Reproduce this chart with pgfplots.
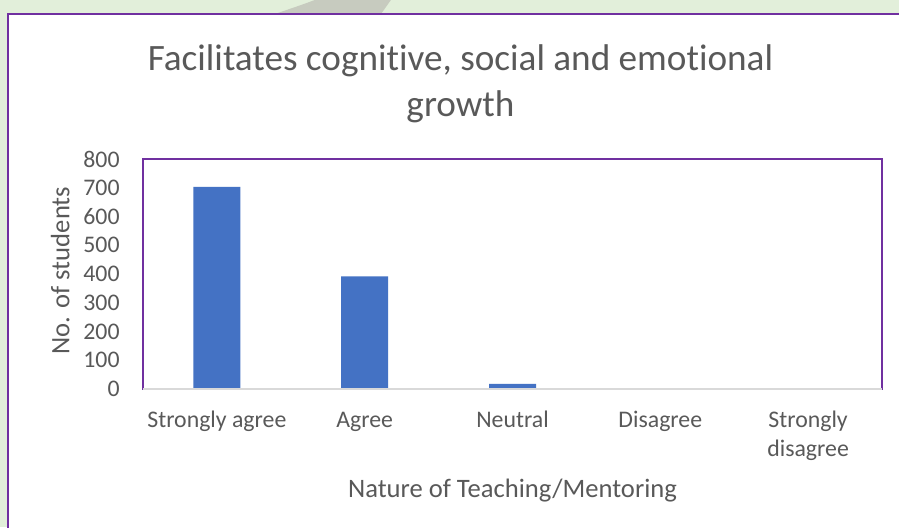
\documentclass[border=0pt]{standalone}
\usepackage{fontspec}
\setmainfont{Carlito}[Ligatures=NoCommon]
\usepackage{pgfplots}
\pgfplotsset{compat=1.18}

\definecolor{bgGreen}{HTML}{E2EFDA}
\definecolor{frameViolet}{HTML}{7030A0}
\definecolor{barBlue}{HTML}{4472C4}
\definecolor{txtGrey}{HTML}{595959}
\definecolor{axisGrey}{HTML}{D9D9D9}
\definecolor{arcGrey}{HTML}{C7CBBF}

\begin{document}
\begin{tikzpicture}
\useasboundingbox (0pt,0pt) rectangle (449.5pt,263.5pt);
\clip (0pt,0pt) rectangle (449.5pt,263.5pt);
% slide background and chart area, in pixel units
\begin{scope}[x=0.5pt,y=0.5pt]
\fill[bgGreen] (0,0) rectangle (899,527);
\fill[arcGrey] (275,513) .. controls (292,519) and (308,524) .. (322,530)
  -- (393,530) -- (381,513) -- cycle;
\draw[frameViolet, line width=1pt, fill=white] (8,-20) rectangle (930,513);
% title, two lines
\node[anchor=base, text=txtGrey, font=\fontsize{18.6}{23}\selectfont]
  at (460.5,457) {Facilitates cognitive, social and emotional};
\node[anchor=base, text=txtGrey, font=\fontsize{18.6}{23}\selectfont]
  at (460.5,411) {growth};
\end{scope}
\begin{axis}[
  at={(71.5pt,69pt)}, anchor=south west,
  scale only axis, width=369.5pt, height=115pt,
  xmin=-0.5, xmax=4.5, ymin=0, ymax=800,
  ytick={0,100,...,800},
  xtick={0,1,2,3,4},
  xticklabels={\strut Strongly agree, \strut Agree, \strut Neutral, \strut Disagree, {\strut Strongly\\\strut disagree}},
  major tick length=0pt,
  axis line style={frameViolet, line width=1pt},
  ybar, bar width=23.5pt,
  tick label style={text=txtGrey, font=\fontsize{11.9}{14.5}\selectfont},
  /pgf/number format/assume math mode=true,
  yticklabel style={anchor=east, inner sep=0pt, xshift=-11.5pt},
  xticklabel style={anchor=north, inner sep=0pt, yshift=-9.1pt, align=center},
  xlabel={Nature of Teaching/Mentoring},
  ylabel={No. of students},
  label style={text=txtGrey, font=\fontsize{13.3}{16}\selectfont},
  xlabel style={at={(axis description cs:0.5,0)}, anchor=base, yshift=-54pt, inner sep=0pt},
  ylabel style={at={(axis description cs:-0.0995,0.515)}, anchor=base, inner sep=0pt},
]
\addplot[fill=barBlue, draw=none] coordinates {(0,703) (1,392) (2,18) (3,0) (4,0)};
\draw[axisGrey, line width=1pt] (rel axis cs:0,0) -- (rel axis cs:1,0);
\end{axis}
\end{tikzpicture}
\end{document}
